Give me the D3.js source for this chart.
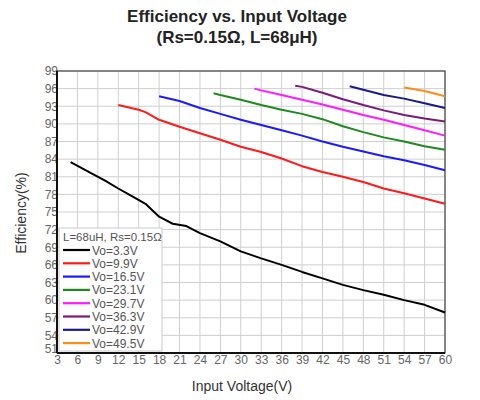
<!DOCTYPE html>
<meta charset="utf-8">
<style>
    body { margin: 0; background: #fff; }
    svg { font-family: "Liberation Sans", Arial, sans-serif; }
    .grid line { stroke: #cfcfcf; stroke-width: 1; }
    .tick text { fill: #666; font-size: 12px; }
    .series { fill: none; stroke-width: 2; stroke-linejoin: round; }
</style>
<svg width="480" height="400"></svg>
<script src="https://d3js.org/d3.v7.min.js"></script>
<script>

    // tick labels
    var xTicks = [3, 6, 9, 12, 15, 18, 21, 24, 27, 30, 33, 36, 39, 42, 45, 48, 51, 54, 57, 60];
    var yTicks = [51, 54, 57, 60, 63, 66, 69, 72, 75, 78, 81, 84, 87, 90, 93, 96, 99];

    // series (input voltage -> efficiency %)
    var vo33x = [5, 8, 10, 12, 14, 16, 18, 20, 22, 24, 27, 30, 33, 36, 39, 42, 45, 48, 51, 54, 57, 60];
    var vo33y = [83.5, 81.6, 80.4, 79.0, 77.7, 76.4, 74.2, 73.0, 72.6, 71.4, 70.0, 68.3, 67.1, 66.0, 64.8, 63.7, 62.6, 61.7, 60.9, 60.0, 59.2, 57.9];
    var vo99x = [12, 15, 16, 18, 21, 24, 27, 30, 33, 36, 39, 42, 45, 48, 51, 54, 57, 60];
    var vo99y = [93.2, 92.4, 92.0, 90.7, 89.5, 88.4, 87.3, 86.1, 85.2, 84.1, 82.8, 81.8, 81.0, 80.1, 79.0, 78.2, 77.3, 76.4];
    var vo165x = [18, 21, 24, 27, 30, 33, 36, 39, 42, 45, 48, 51, 54, 57, 60];
    var vo165y = [94.7, 93.9, 92.7, 91.7, 90.7, 89.8, 88.9, 88.0, 87.0, 86.1, 85.3, 84.5, 83.8, 83.0, 82.1];
    var vo231x = [26, 27, 30, 33, 36, 39, 42, 45, 48, 51, 54, 57, 60];
    var vo231y = [95.2, 94.9, 94.1, 93.2, 92.4, 91.7, 90.8, 89.6, 88.6, 87.7, 87.0, 86.2, 85.6];
    var vo297x = [32, 33, 36, 39, 42, 45, 48, 51, 54, 57, 60];
    var vo297y = [96.0, 95.7, 94.9, 94.1, 93.3, 92.4, 91.5, 90.7, 89.8, 88.9, 88.0];
    var vo363x = [38, 39, 42, 45, 48, 51, 54, 57, 60];
    var vo363y = [96.5, 96.3, 95.3, 94.2, 93.2, 92.3, 91.5, 90.9, 90.4];
    var vo429x = [46, 48, 51, 54, 57, 60];
    var vo429y = [96.4, 95.8, 94.9, 94.3, 93.5, 92.7];
    var vo495x = [54, 57, 60];
    var vo495y = [96.2, 95.6, 94.7];

    var names = ["Vo=3.3V", "Vo=9.9V", "Vo=16.5V", "Vo=23.1V", "Vo=29.7V", "Vo=36.3V", "Vo=42.9V", "Vo=49.5V"];
    var colors = ["#000000", "#ff1a1a", "#1a1aff", "#1e8a1e", "#ff1aff", "#7a1a7a", "#1a1a8c", "#ff8c1a"];
    var xs = [vo33x, vo99x, vo165x, vo231x, vo297x, vo363x, vo429x, vo495x];
    var ys = [vo33y, vo99y, vo165y, vo231y, vo297y, vo363y, vo429y, vo495y];

    var svg = d3.select("svg"),
        margin = {top: 71, right: 35, bottom: 47, left: 57},
        width = +svg.attr("width") - margin.left - margin.right,
        height = +svg.attr("height") - margin.top - margin.bottom;

    var x = d3.scaleLinear().domain([3, 60]).range([0, width]),
        y = d3.scaleLinear().domain([51, 99]).range([height, 0]);

    // title
    svg.append("text")
        .attr("x", 237).attr("y", 22)
        .attr("text-anchor", "middle")
        .attr("font-size", "17px").attr("font-weight", "bold").attr("fill", "#222")
        .text("Efficiency vs. Input Voltage");
    svg.append("text")
        .attr("x", 237).attr("y", 43)
        .attr("text-anchor", "middle")
        .attr("font-size", "17px").attr("font-weight", "bold").attr("fill", "#222")
        .text("(Rs=0.15Ω, L=68μH)");

    var g = svg.append("g")
        .attr("transform", "translate(" + margin.left + "," + margin.top + ")");

    // grid
    g.append("g").attr("class", "grid")
        .selectAll("line").data(xTicks).enter().append("line")
        .attr("x1", function(d) { return x(d); }).attr("x2", function(d) { return x(d); })
        .attr("y1", 0).attr("y2", height);
    g.append("g").attr("class", "grid")
        .selectAll("line").data(yTicks).enter().append("line")
        .attr("y1", function(d) { return y(d); }).attr("y2", function(d) { return y(d); })
        .attr("x1", 0).attr("x2", width);

    // axes
    var xAxis = g.append("g")
        .attr("transform", "translate(0," + height + ")")
        .call(d3.axisBottom(x).tickValues(xTicks).tickSize(0).tickPadding(2));
    var yAxis = g.append("g")
        .call(d3.axisLeft(y).tickValues(yTicks).tickSize(0).tickPadding(-1));
    xAxis.select(".domain").remove();
    yAxis.select(".domain").remove();
    // bottom-most y label sits tight against the "3"; lift it a touch
    yAxis.selectAll(".tick text").filter(function(d) { return d === 51; })
        .attr("dy", "-0.05em");

    // plot frame
    g.append("rect")
        .attr("width", width).attr("height", height)
        .attr("fill", "none").attr("stroke", "#444").attr("stroke-width", 1.2);
    g.append("line").attr("x1", 0).attr("x2", 0).attr("y1", 0).attr("y2", height)
        .attr("stroke", "#111").attr("stroke-width", 2);
    g.append("line").attr("x1", 0).attr("x2", width).attr("y1", height).attr("y2", height)
        .attr("stroke", "#111").attr("stroke-width", 2);

    // series
    var line = d3.line()
        .x(function(d) { return x(d[0]); })
        .y(function(d) { return y(d[1]); });

    names.forEach(function(n, i) {
        var pts = xs[i].map(function(v, j) { return [v, ys[i][j]]; });
        g.append("path")
            .datum(pts)
            .attr("class", "series")
            .attr("stroke", colors[i])
            .attr("d", line);
    });

    // axis labels
    svg.append("text")
        .attr("x", 242).attr("y", 391)
        .attr("text-anchor", "middle")
        .attr("font-size", "14px").attr("fill", "#333")
        .text("Input Voltage(V)");
    svg.append("text")
        .attr("transform", "translate(26,213) rotate(-90)")
        .attr("text-anchor", "middle")
        .attr("font-size", "14px").attr("fill", "#333")
        .text("Efficiency(%)");

    // legend
    var lg = svg.append("g").attr("transform", "translate(59,228)");
    lg.append("rect")
        .attr("width", 103).attr("height", 123)
        .attr("fill", "#fff").attr("stroke", "#ccc");
    lg.append("text")
        .attr("x", 4).attr("y", 13)
        .attr("font-size", "11.5px").attr("fill", "#555")
        .text("L=68uH, Rs=0.15Ω");
    var items = lg.selectAll(".item").data(names).enter().append("g")
        .attr("transform", function(d, i) { return "translate(0," + (22 + i * 13.3) + ")"; });
    items.append("line")
        .attr("x1", 4).attr("x2", 31)
        .attr("stroke", function(d, i) { return colors[i]; })
        .attr("stroke-width", 2.2);
    items.append("text")
        .attr("x", 33).attr("y", 4.5)
        .attr("font-size", "12px").attr("fill", "#555")
        .text(function(d) { return d; });

</script>
